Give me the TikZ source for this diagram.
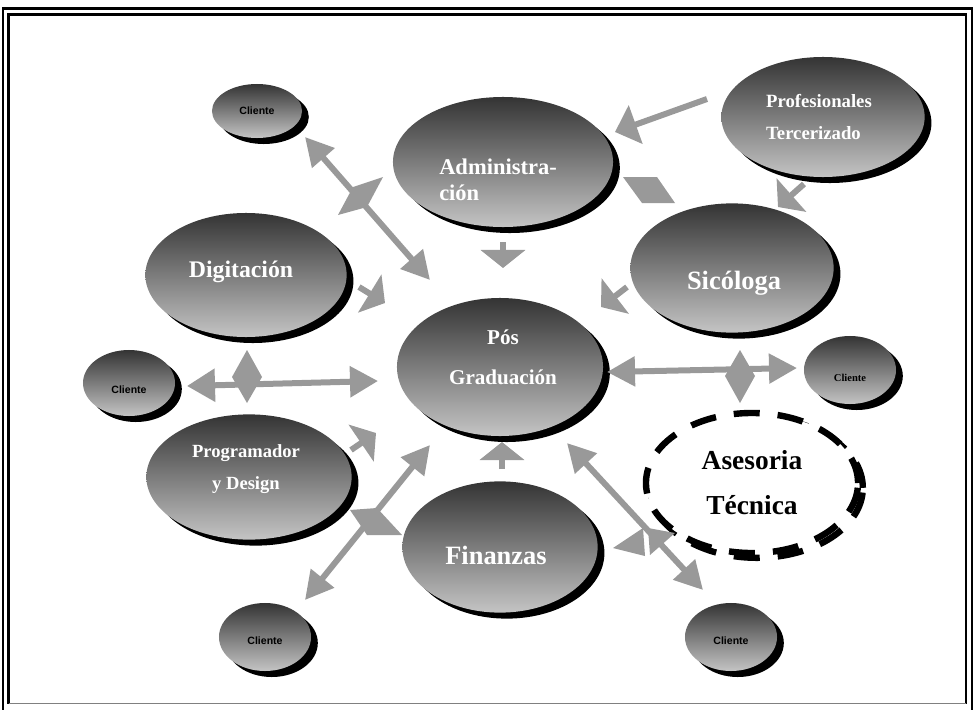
\documentclass[tikz,border=0pt]{standalone}
\usepackage{fontspec}
\setmainfont{Liberation Serif}
\setsansfont{Liberation Sans}
\usetikzlibrary{shapes.geometric, arrows.meta, shadows}

\definecolor{bubtop}{RGB}{52,52,52}
\definecolor{bubbot}{RGB}{196,196,196}
\definecolor{arrgray}{RGB}{153,153,153}

\begin{document}
\begin{tikzpicture}[
        x=0.025cm, y=-0.025cm,
        bubble/.style={ellipse, top color=bubtop, bottom color=bubbot, inner sep=0pt,
            drop shadow={shadow xshift=0.17cm, shadow yshift=-0.15cm, fill=black, opacity=1}},
        client/.style={bubble, minimum width=2.3cm, minimum height=1.7cm},
        wlabel/.style={text=white, align=center},
        clabel/.style={text=black, font=\sffamily\bfseries\fontsize{7.5}{9}\selectfont},
        fat/.style={draw=arrgray, line width=0.15cm},
        dbl/.style={fat, {Triangle[length=0.7cm,width=0.72cm]}-{Triangle[length=0.7cm,width=0.72cm]}},
        stub/.style={fat, -{Triangle[length=0.45cm,width=1.1cm]}},
        lng/.style={fat, -{Triangle[length=0.55cm,width=1cm]}},
        joint/.style={fill=arrgray}
    ]

    % Frame
    \useasboundingbox (0,0) rectangle (975,710);
    \draw[line width=0.0625cm] (3,720) -- (3,8.7) -- (972,8.7) -- (972,720);
    \draw[line width=0.0625cm] (8.7,703.5) -- (8.7,14.5) -- (966,14.5) -- (966,703.5);
    \draw[gray, line width=0.04cm] (8.7,703.5) -- (966,703.5);

    % Central node
    \node[bubble, minimum width=5.15cm, minimum height=3.45cm,
        label={[wlabel, font=\bfseries\fontsize{15}{28.5}\selectfont, xshift=0.075cm, yshift=0.25cm]center:Pós\\Graduación}] (pos) at (500,367) {};

    % Areas
    \node[bubble, minimum width=5.5cm, minimum height=3.25cm,
        label={[wlabel, align=left, font=\bfseries\fontsize{16}{18.5}\selectfont, xshift=-0.125cm, yshift=-0.45cm]center:Administra-\\ción}] (adm) at (503,162) {};
    \node[bubble, minimum width=5.08cm, minimum height=3cm,
        label={[wlabel, align=left, font=\bfseries\fontsize{13.3}{22.8}\selectfont, xshift=-0.1cm]center:Profesionales\\Tercerizado}] (prof) at (823,117) {};
    \node[bubble, minimum width=5.08cm, minimum height=3.23cm,
        label={[wlabel, font=\bfseries\fontsize{18.8}{22}\selectfont, xshift=0.05cm, yshift=-0.375cm]center:Sicóloga}] (sic) at (732,268) {};
    \node[bubble, minimum width=5.03cm, minimum height=3.1cm,
        label={[wlabel, font=\bfseries\fontsize{16.9}{20}\selectfont, xshift=-0.125cm, yshift=0.075cm]center:Digitación}] (dig) at (246,275) {};
    \node[bubble, minimum width=5.13cm, minimum height=3.13cm,
        label={[wlabel, font=\bfseries\fontsize{13.2}{22.8}\selectfont, xshift=-0.075cm, yshift=0.2cm]center:Programador\\y Design}] (prog) at (249,477) {};
    \node[bubble, minimum width=4.88cm, minimum height=3.28cm,
        label={[wlabel, font=\bfseries\fontsize{18.8}{22}\selectfont, xshift=-0.1cm, yshift=-0.2cm]center:Finanzas}] (fin) at (500,547) {};

    % Asesoria (dashed, no fill colour)
    \node[ellipse, draw, fill=white, line width=0.16cm, dash pattern=on 0.65cm off 0.45cm,
        minimum width=5.3cm, minimum height=3.5cm, align=center,
        font=\bfseries\fontsize{19.5}{32}\selectfont,
        preaction={draw, line width=0.16cm, dash pattern=on 0.65cm off 0.45cm, transform canvas={xshift=0.12cm, yshift=-0.12cm}}] (ase) at (752,483) {Asesoria\\Técnica};

    % Clientes
    \node[client, minimum width=2.25cm, minimum height=1.35cm,
        label={[clabel]center:Cliente}] (cli-tl) at (257,111) {};
    \node[client, minimum height=1.65cm, label={[clabel, yshift=-0.175cm]center:Cliente}] (cli-l) at (129,383) {};
    \node[client, label={[clabel, font=\bfseries\fontsize{7.5}{9}\selectfont, yshift=-0.2cm]center:Cliente}] (cli-r) at (850,370) {};
    \node[client, label={[clabel, yshift=-0.1cm]center:Cliente}] (cli-bl) at (265,637) {};
    \node[client, label={[clabel, yshift=-0.1cm]center:Cliente}] (cli-br) at (731,637) {};

    % Arrow ends
    \coordinate (tl-a) at (305,137);  \coordinate (tl-b) at (430,280);
    \coordinate (bl-a) at (305,600);  \coordinate (bl-b) at (430,445);
    \coordinate (br-a) at (567,443);  \coordinate (br-b) at (703,590);
    \coordinate (l-a) at (187,386);   \coordinate (l-b) at (378,381);
    \coordinate (r-a) at (607,372);   \coordinate (r-b) at (797,368);
    \coordinate (prof-a) at (707,99); \coordinate (prof-b) at (615,132);
    \coordinate (prof-c) at (804,184); \coordinate (prof-d) at (778,207);
    \coordinate (adm-a) at (503,242); \coordinate (adm-b) at (503,268);
    \coordinate (fin-a) at (502,469); \coordinate (fin-b) at (502,442);
    \coordinate (dig-a) at (359,287); \coordinate (dig-b) at (385,303);
    \coordinate (sic-a) at (627,287); \coordinate (sic-b) at (601,307);
    \coordinate (prog-a) at (351,450); \coordinate (prog-b) at (376,433);

    % Two-way arrows to the clients
    \draw[dbl] (tl-a) -- (tl-b);
    \draw[dbl] (bl-a) -- (bl-b);
    \draw[dbl] (br-a) -- (br-b);
    \draw[dbl, {Triangle[length=0.7cm,width=0.8cm]}-{Triangle[length=0.7cm,width=0.75cm]}] (l-a) -- (l-b);
    \draw[dbl] (r-a) -- (r-b);

    % One-way arrows
    \draw[lng] (prof-a) -- (prof-b);
    \draw[stub] (prof-c) -- (prof-d);
    \draw[stub] (adm-a) -- (adm-b);
    \draw[stub] (fin-a) -- (fin-b);
    \draw[stub] (dig-a) -- (dig-b);
    \draw[stub] (sic-a) -- (sic-b);
    \draw[stub] (prog-a) -- (prog-b);

    % Joints on the arrows
    \fill[joint] (338,215) -- (353,187) -- (383,177) -- (367,207) -- cycle;
    \fill[joint] (350,510) -- (377,508) -- (402,535) -- (367,535) -- cycle;
    \fill[joint] (247,350) -- (262,377) -- (247,403) -- (232,377) -- cycle;
    \fill[joint] (740,350) -- (755,376) -- (740,403) -- (725,376) -- cycle;
    \fill[joint] (623,177) -- (657,177) -- (675,203) -- (642,203) -- cycle;
    \fill[joint] (613,548) -- (643,528) -- (645,556) -- cycle;
    \fill[joint] (648,528) -- (675,533) -- (650,555) -- cycle;

\end{tikzpicture}
\end{document}
